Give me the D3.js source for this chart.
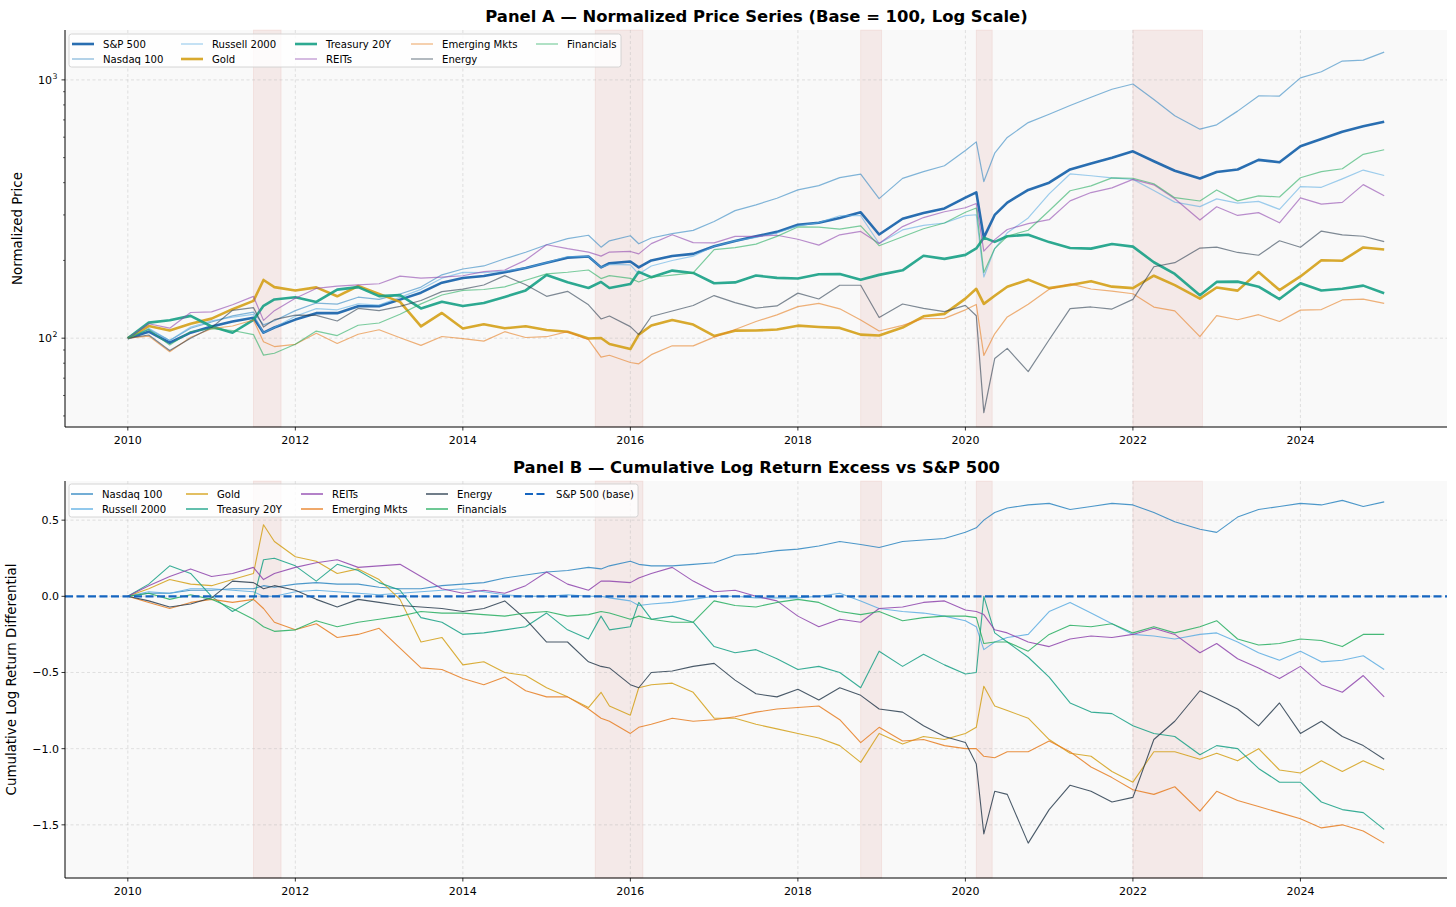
<!DOCTYPE html>
<html>
<head>
<meta charset="utf-8">
<script src="https://cdn.jsdelivr.net/npm/d3@7"></script>
<style>
  body { margin: 0; background: #fff; }
  svg { font-family: "DejaVu Sans", sans-serif; }
</style>
</head>
<body>
<div id="chart"></div>
<script>
// sample dates (decimal years)
const dates = [
  2010.0, 2010.25, 2010.5, 2010.75,
  2011.0, 2011.25, 2011.5, 2011.62, 2011.75,
  2012.0, 2012.25, 2012.5, 2012.75,
  2013.0, 2013.25, 2013.5, 2013.75,
  2014.0, 2014.25, 2014.5, 2014.75,
  2015.0, 2015.25, 2015.5, 2015.65, 2015.75,
  2016.0, 2016.1, 2016.25, 2016.5, 2016.75,
  2017.0, 2017.25, 2017.5, 2017.75,
  2018.0, 2018.25, 2018.5, 2018.75, 2018.97,
  2019.25, 2019.5, 2019.75,
  2020.0, 2020.13, 2020.22, 2020.35, 2020.5, 2020.75,
  2021.0, 2021.25, 2021.5, 2021.75,
  2022.0, 2022.25, 2022.5, 2022.8,
  2023.0, 2023.25, 2023.5, 2023.75,
  2024.0, 2024.25, 2024.5, 2024.75,
  2025.0
];

// S&P 500 normalized level (base = 100)
const sp500 = [
  100, 106, 96, 105,
  111, 116, 120, 105, 110,
  118, 125, 125, 133,
  133, 141, 150, 164,
  171, 174, 180, 187,
  196, 205, 207, 188, 195,
  198, 188, 200, 208, 212,
  227, 238, 248, 258,
  275, 280, 292, 307, 252,
  290, 305, 318,
  350, 367, 245, 300, 335, 375,
  400, 450, 475, 500,
  529, 484, 445, 415,
  440, 450, 490, 480,
  553, 590, 630, 661,
  689
];

// cumulative log return excess vs S&P 500 (Panel B)
const nasdaqEx = [
  0, 0.02, 0.02, 0.04,
  0.04, 0.05, 0.05, 0.07, 0.06,
  0.08, 0.09, 0.08, 0.08,
  0.06, 0.05, 0.05, 0.07,
  0.08, 0.09, 0.12, 0.14,
  0.16, 0.17, 0.19, 0.18, 0.2,
  0.23, 0.21, 0.2, 0.2, 0.21,
  0.22, 0.27, 0.28, 0.3,
  0.31, 0.33, 0.36, 0.34, 0.32,
  0.36, 0.37, 0.38,
  0.42, 0.45, 0.5, 0.55, 0.58, 0.6,
  0.61, 0.57, 0.59, 0.61,
  0.6, 0.55, 0.49, 0.44,
  0.42, 0.52, 0.57, 0.59,
  0.61, 0.6, 0.63, 0.59,
  0.62
];
const russellEx = [
  0, 0.03, 0.02, 0.05,
  0.05, 0.04, 0.03, 0.0, 0.0,
  0.03, 0.04, 0.03, 0.02,
  0.01, 0.02, 0.03, 0.04,
  0.05, 0.03, 0.01, 0.0,
  0.0, 0.01, 0.0, 0.0, -0.01,
  -0.03, -0.06, -0.05, -0.04, -0.02,
  0.0, 0.0, -0.01, -0.01,
  -0.01, 0.0, 0.02, -0.03, -0.08,
  -0.1, -0.11, -0.13,
  -0.16, -0.2, -0.35, -0.3, -0.27, -0.25,
  -0.1, -0.04, -0.11, -0.18,
  -0.25, -0.26, -0.28, -0.25,
  -0.24, -0.3, -0.37, -0.42,
  -0.36, -0.43, -0.42, -0.39,
  -0.48
];
const goldEx = [
  0, 0.05, 0.11, 0.08,
  0.07, 0.11, 0.15, 0.47, 0.36,
  0.26, 0.23, 0.15, 0.18,
  0.11, -0.02, -0.3, -0.27,
  -0.45, -0.43, -0.5, -0.52,
  -0.6, -0.66, -0.73, -0.63, -0.72,
  -0.78, -0.6, -0.58, -0.57, -0.63,
  -0.8, -0.8, -0.84, -0.87,
  -0.9, -0.93, -0.98, -1.09, -0.9,
  -0.97, -0.92, -0.94,
  -0.9, -0.86, -0.59, -0.72, -0.75, -0.8,
  -0.94, -1.03, -1.05, -1.15,
  -1.22, -1.02, -1.02, -1.07,
  -1.03, -1.08, -1.0, -1.14,
  -1.16, -1.08, -1.15, -1.08,
  -1.14
];
const treasuryEx = [
  0, 0.08, 0.2, 0.15,
  0.0, -0.1, -0.02, 0.24, 0.25,
  0.2, 0.1, 0.21, 0.17,
  0.09, 0.04, -0.14, -0.17,
  -0.25, -0.24, -0.22, -0.2,
  -0.11, -0.22, -0.28, -0.13, -0.22,
  -0.2, -0.04, -0.15, -0.13, -0.17,
  -0.33, -0.37, -0.35, -0.41,
  -0.48, -0.46, -0.5, -0.6, -0.36,
  -0.46, -0.38, -0.45,
  -0.51, -0.5, 0.0, -0.24, -0.3, -0.4,
  -0.53, -0.7, -0.76, -0.77,
  -0.85, -0.9, -0.92, -1.04,
  -0.98, -1.0, -1.13, -1.22,
  -1.22, -1.35, -1.4, -1.42,
  -1.53
];
const reitsEx = [
  0, 0.07, 0.13, 0.18,
  0.13, 0.15, 0.19, 0.11, 0.15,
  0.19, 0.22, 0.24, 0.19,
  0.2, 0.21, 0.13, 0.05,
  0.02, 0.04, 0.02, 0.07,
  0.16, 0.08, 0.04, 0.1, 0.1,
  0.09, 0.12, 0.15, 0.19, 0.1,
  0.03, 0.04, 0.0, -0.03,
  -0.13, -0.2, -0.15, -0.17, -0.08,
  -0.07, -0.04, -0.03,
  -0.09, -0.1, -0.12, -0.22, -0.24, -0.3,
  -0.33, -0.28, -0.26, -0.27,
  -0.25, -0.21, -0.25, -0.37,
  -0.31, -0.41, -0.47, -0.54,
  -0.46, -0.58, -0.63, -0.52,
  -0.66
];
const emergingEx = [
  0, -0.04, -0.08, -0.04,
  -0.02, -0.04, -0.02, -0.08, -0.17,
  -0.22, -0.18, -0.27, -0.25,
  -0.21, -0.34, -0.47, -0.48,
  -0.54, -0.58, -0.53, -0.62,
  -0.66, -0.66, -0.74, -0.8, -0.82,
  -0.9, -0.86, -0.84, -0.8, -0.82,
  -0.81, -0.79, -0.76, -0.74,
  -0.73, -0.72, -0.81, -0.96, -0.86,
  -0.95, -0.94, -0.98,
  -1.0, -1.0, -1.05, -1.06, -1.02, -1.02,
  -0.95, -1.02, -1.12, -1.19,
  -1.27, -1.3, -1.25, -1.41,
  -1.28, -1.34, -1.38, -1.42,
  -1.46, -1.52, -1.5, -1.54,
  -1.62
];
const energyEx = [
  0, -0.03, -0.07, -0.05,
  -0.01, 0.1, 0.09, 0.05, 0.07,
  0.04, -0.02, -0.07, -0.02,
  -0.04, -0.06, -0.07, -0.08,
  -0.1, -0.08, -0.03, -0.15,
  -0.3, -0.3, -0.43, -0.46, -0.47,
  -0.58, -0.6, -0.5, -0.49, -0.46,
  -0.44, -0.55, -0.64, -0.66,
  -0.61, -0.68, -0.6, -0.65, -0.74,
  -0.76, -0.85, -0.92,
  -0.96, -1.1, -1.56, -1.28, -1.3, -1.62,
  -1.4, -1.24, -1.28, -1.35,
  -1.32, -0.94, -0.82, -0.62,
  -0.67, -0.74, -0.85, -0.7,
  -0.9, -0.82, -0.92, -0.98,
  -1.07
];
const financialsEx = [
  0, 0.02, -0.02, 0.01,
  -0.02, -0.08, -0.15, -0.2, -0.23,
  -0.22, -0.16, -0.2, -0.17,
  -0.15, -0.13, -0.1, -0.11,
  -0.11, -0.12, -0.13, -0.11,
  -0.1, -0.13, -0.12, -0.1, -0.11,
  -0.15, -0.13, -0.15, -0.17, -0.17,
  -0.03, -0.06, -0.07, -0.04,
  -0.02, -0.04, -0.1, -0.12, -0.1,
  -0.16, -0.14, -0.13,
  -0.13, -0.14, -0.31, -0.3, -0.3, -0.36,
  -0.25, -0.19, -0.2, -0.18,
  -0.24, -0.2, -0.24, -0.2,
  -0.16, -0.28, -0.32, -0.31,
  -0.28, -0.29, -0.33, -0.25,
  -0.25
];

// stress periods (shaded)
const stressPeriods = [[2011.5, 2011.83], [2015.58, 2016.15], [2018.75, 2019.0], [2020.13, 2020.32], [2022.0, 2022.83]];

const xTicks = [2010, 2012, 2014, 2016, 2018, 2020, 2022, 2024];
const yTicksB = [0.5, 0.0, -0.5, -1.0, -1.5];

const series = [
  { name: "S&P 500", ex: null, color: "#125ea8", thick: true },
  { name: "Nasdaq 100", ex: nasdaqEx, color: "#2e86c1" },
  { name: "Russell 2000", ex: russellEx, color: "#5dade2" },
  { name: "Gold", ex: goldEx, color: "#d4a017", thick: true },
  { name: "Treasury 20Y", ex: treasuryEx, color: "#16a085", thick: true },
  { name: "REITs", ex: reitsEx, color: "#8e44ad" },
  { name: "Emerging Mkts", ex: emergingEx, color: "#e67e22" },
  { name: "Energy", ex: energyEx, color: "#2c3e50" },
  { name: "Financials", ex: financialsEx, color: "#27ae60" }
];

const W = 1456, H = 907;
const svg = d3.select("#chart").append("svg").attr("width", W).attr("height", H);
svg.append("rect").attr("width", W).attr("height", H).attr("fill", "#fff");

const left = 65, right = 1447;
const x = d3.scaleLinear().domain([2009.25, 2025.75]).range([left, right]);

const panelA = { top: 30, bottom: 427 };
const panelB = { top: 481, bottom: 878 };

const yA = d3.scaleLog().domain([45.3, 1560]).range([panelA.bottom, panelA.top]);
const yB = d3.scaleLinear().domain([-1.849, 0.757]).range([panelB.bottom, panelB.top]);

function drawFrame(p, title, ylabel) {
  svg.append("rect")
    .attr("x", left).attr("y", p.top)
    .attr("width", right - left).attr("height", p.bottom - p.top)
    .attr("fill", "#f9f9f9");

  // shaded stress windows
  stressPeriods.forEach(([a, b]) => {
    svg.append("rect")
      .attr("x", x(a)).attr("y", p.top)
      .attr("width", x(b) - x(a)).attr("height", p.bottom - p.top)
      .attr("fill", "#c0392b").attr("fill-opacity", 0.08)
      .attr("stroke", "#c0392b").attr("stroke-opacity", 0.1).attr("stroke-width", 0.8);
  });

  // vertical grid
  xTicks.forEach(t => {
    svg.append("line")
      .attr("x1", x(t)).attr("x2", x(t)).attr("y1", p.top).attr("y2", p.bottom)
      .attr("stroke", "#b0b0b0").attr("stroke-opacity", 0.45)
      .attr("stroke-width", 0.8).attr("stroke-dasharray", "3,2.5");
  });

  svg.append("text")
    .attr("x", (left + right) / 2 + 0.5).attr("y", p.top - 8)
    .attr("text-anchor", "middle")
    .attr("font-size", 16.4).attr("font-weight", "bold")
    .text(title);

  svg.append("text")
    .attr("transform", `translate(${ylabel.x},${(p.top + p.bottom) / 2}) rotate(-90)`)
    .attr("text-anchor", "middle")
    .attr("font-size", 13.4)
    .text(ylabel.text);
}

function drawAxes(p) {
  const g = svg.append("g");
  g.append("line").attr("x1", left).attr("x2", left).attr("y1", p.top).attr("y2", p.bottom)
    .attr("stroke", "#000").attr("stroke-width", 1);
  g.append("line").attr("x1", left).attr("x2", right).attr("y1", p.bottom).attr("y2", p.bottom)
    .attr("stroke", "#000").attr("stroke-width", 1);
  xTicks.forEach(t => {
    g.append("line").attr("x1", x(t)).attr("x2", x(t)).attr("y1", p.bottom).attr("y2", p.bottom + 3.5)
      .attr("stroke", "#000").attr("stroke-width", 0.8);
    g.append("text").attr("x", x(t)).attr("y", p.bottom + 17)
      .attr("text-anchor", "middle").attr("font-size", 11).text(t);
  });
}

function drawLegend(items, box, cols) {
  const g = svg.append("g");
  g.append("rect")
    .attr("x", box.x).attr("y", box.y).attr("width", box.w).attr("height", box.h)
    .attr("rx", 2.5).attr("fill", "#fff").attr("fill-opacity", 0.8)
    .attr("stroke", "#cccccc").attr("stroke-width", 0.8);
  items.forEach((it, i) => {
    const c = Math.floor(i / 2), r = i % 2;
    const cx = cols[c], cy = box.y + 10 + r * 15;
    g.append("line")
      .attr("x1", cx).attr("x2", cx + 22).attr("y1", cy).attr("y2", cy)
      .attr("stroke", it.color).attr("stroke-opacity", it.opacity)
      .attr("stroke-width", it.width)
      .attr("stroke-dasharray", it.dash || null);
    g.append("text").attr("x", cx + 31).attr("y", cy + 3.6)
      .attr("font-size", 10.1).text(it.name);
  });
}

// ---------- Panel A ----------
drawFrame(panelA, "Panel A \u2014 Normalized Price Series (Base = 100, Log Scale)",
  { x: 22, text: "Normalized Price" });

[100, 1000].forEach(v => {
  svg.append("line")
    .attr("x1", left).attr("x2", right).attr("y1", yA(v)).attr("y2", yA(v))
    .attr("stroke", "#b0b0b0").attr("stroke-opacity", 0.45)
    .attr("stroke-width", 0.8).attr("stroke-dasharray", "3,2.5");
});

const levelsOf = s => s.ex === null ? sp500 : sp500.map((v, i) => v * Math.exp(s.ex[i]));

const lineA = d3.line().x(d => x(d[0])).y(d => yA(d[1]));
series.forEach(s => {
  const lv = levelsOf(s);
  svg.append("path")
    .datum(dates.map((t, i) => [t, lv[i]]))
    .attr("d", lineA)
    .attr("fill", "none")
    .attr("stroke", s.color)
    .attr("stroke-opacity", s.thick ? 0.9 : 0.6)
    .attr("stroke-width", s.thick ? 2.6 : 1.2)
    .attr("stroke-linejoin", "round");
});

drawAxes(panelA);
// log y axis
[50, 60, 70, 80, 90, 200, 300, 400, 500, 600, 700, 800, 900].forEach(v => {
  svg.append("line").attr("x1", left - 2).attr("x2", left).attr("y1", yA(v)).attr("y2", yA(v))
    .attr("stroke", "#000").attr("stroke-width", 0.6);
});
[[100, "2"], [1000, "3"]].forEach(([v, e]) => {
  svg.append("line").attr("x1", left - 3.5).attr("x2", left).attr("y1", yA(v)).attr("y2", yA(v))
    .attr("stroke", "#000").attr("stroke-width", 0.8);
  svg.append("text").attr("x", left - 13).attr("y", yA(v) + 4)
    .attr("text-anchor", "end").attr("font-size", 11).text("10");
  svg.append("text").attr("x", left - 12.5).attr("y", yA(v) - 1)
    .attr("text-anchor", "start").attr("font-size", 7.8).text(e);
});

drawLegend(
  series.map(s => ({ name: s.name, color: s.color, opacity: s.thick ? 0.9 : 0.6, width: s.thick ? 2.6 : 1.2 })),
  { x: 69, y: 34, w: 552, h: 33 },
  [72, 181, 295, 411, 536]
);

// ---------- Panel B ----------
drawFrame(panelB, "Panel B \u2014 Cumulative Log Return Excess vs S&P 500",
  { x: 16, text: "Cumulative Log Return Differential" });

yTicksB.forEach(v => {
  svg.append("line")
    .attr("x1", left).attr("x2", right).attr("y1", yB(v)).attr("y2", yB(v))
    .attr("stroke", "#b0b0b0").attr("stroke-opacity", 0.45)
    .attr("stroke-width", 0.8).attr("stroke-dasharray", "3,2.5");
});

const lineB = d3.line().x(d => x(d[0])).y(d => yB(d[1]));
const others = series.filter(s => s.ex !== null);
others.forEach(s => {
  svg.append("path")
    .datum(dates.map((t, i) => [t, s.ex[i]]))
    .attr("d", lineB)
    .attr("fill", "none")
    .attr("stroke", s.color)
    .attr("stroke-opacity", 0.85)
    .attr("stroke-width", 1.1)
    .attr("stroke-linejoin", "round");
});

svg.append("line")
  .attr("x1", left).attr("x2", right).attr("y1", yB(0)).attr("y2", yB(0))
  .attr("stroke", "#1565c0").attr("stroke-width", 2.2)
  .attr("stroke-dasharray", "8,3.5");

drawAxes(panelB);
yTicksB.forEach(v => {
  svg.append("line").attr("x1", left - 3.5).attr("x2", left).attr("y1", yB(v)).attr("y2", yB(v))
    .attr("stroke", "#000").attr("stroke-width", 0.8);
  svg.append("text").attr("x", left - 6).attr("y", yB(v) + 4)
    .attr("text-anchor", "end").attr("font-size", 11)
    .text(d3.format(".1f")(v).replace("-", "\u2212"));
});

drawLegend(
  others.map(s => ({ name: s.name, color: s.color, opacity: 0.85, width: 1.6 }))
    .concat([{ name: "S&P 500 (base)", color: "#1565c0", opacity: 1, width: 2.2, dash: "8,3.5" }]),
  { x: 69, y: 484, w: 569, h: 33 },
  [71, 186, 301, 426, 525]
);
</script>
</body>
</html>
